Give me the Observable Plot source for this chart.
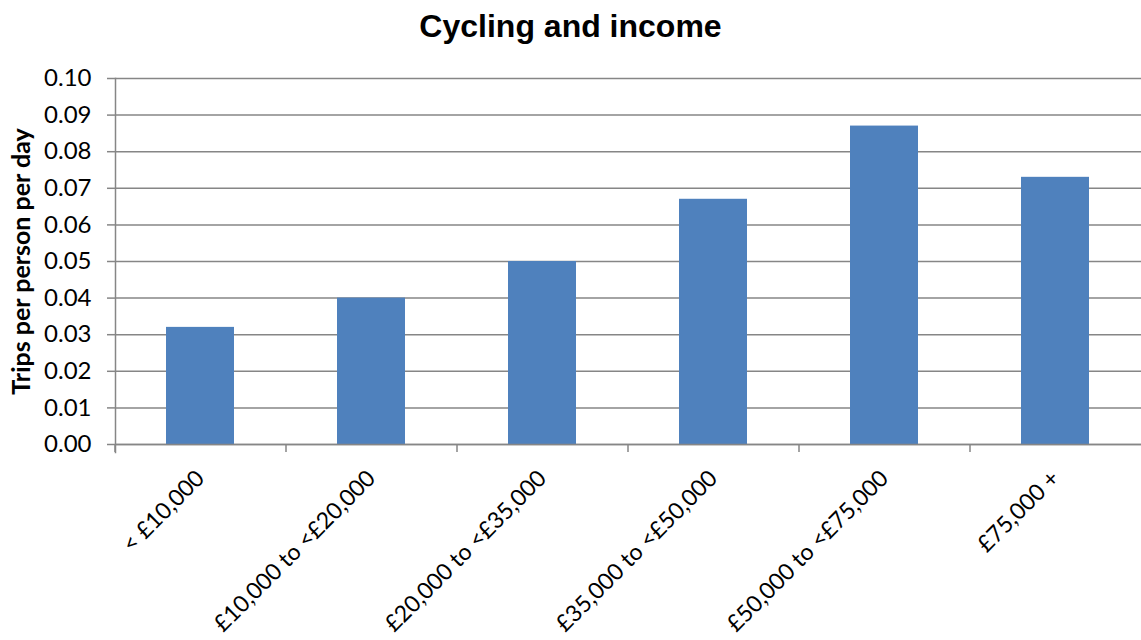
<!DOCTYPE html>
<html>
<head>
<meta charset="utf-8">
<script src="https://cdn.jsdelivr.net/npm/d3@7"></script>
<script src="https://cdn.jsdelivr.net/npm/@observablehq/plot@0.6"></script>
<style>
  html, body { margin: 0; padding: 0; background: white; overflow: hidden; }
  #title { height: 56px; line-height: 52px; text-align: center; font-family: "Liberation Sans", Arial, sans-serif; font-weight: bold; font-size: 32px; color: #000; width: 1141px; }
</style>
</head>
<body>
<div id="title">Cycling and income</div>
<div id="chart"></div>
<script>
const categories = ["< £10,000", "£10,000 to <£20,000", "£20,000 to <£35,000", "£35,000 to <£50,000", "£50,000 to <£75,000", "£75,000 +"];
const values = [0.032, 0.040, 0.050, 0.067, 0.087, 0.073];
const yTicks = [0, 0.01, 0.02, 0.03, 0.04, 0.05, 0.06, 0.07, 0.08, 0.09, 0.10];
const yLabel = "Trips per person per day";

const data = categories.map((c, i) => ({category: c, value: values[i]}));

const W = 1141, H = 584, ML = 115, MR = 0, MT = 22, MB = 196;
const step = (W - ML - MR) / categories.length;
const grey = "#868686";

const chart = Plot.plot({
  width: W,
  height: H,
  marginLeft: ML,
  marginRight: MR,
  marginTop: MT,
  marginBottom: MB,
  style: {fontFamily: "Lato, sans-serif", fontSize: "22px", color: "#000", background: "white", overflow: "visible"},
  x: {domain: categories, paddingInner: 0.6, paddingOuter: 0.3, label: null},
  y: {domain: [0, 0.10], label: null},
  marks: [
    Plot.gridY(yTicks, {stroke: grey, strokeOpacity: 1, strokeWidth: 1.5}),
    Plot.barY(data, {x: "category", y: "value", fill: "#4F81BD"}),
    Plot.ruleY([0], {stroke: grey, strokeWidth: 1.5}),
    Plot.frame({anchor: "left", stroke: grey, strokeWidth: 1.5, insetBottom: -8}),
    Plot.ruleX(categories, {x: d => d, y1: 0, y2: 0, insetBottom: -8, dx: -step / 2, stroke: grey, strokeWidth: 1.5}),
    Plot.axisY(yTicks, {tickFormat: d3.format(".2f"), tickSize: 8, tickPadding: 16, stroke: grey, strokeWidth: 1.5, fontSize: 24, label: null}),
    Plot.axisX({tickSize: 0, tickRotate: -45, tickPadding: 30, fontSize: 23, label: null}),
    Plot.text([yLabel], {text: d => d, frameAnchor: "left", textAnchor: "middle", rotate: -90, dx: -94, fontWeight: "bold", fontSize: 25, fill: "#000"})
  ]
});
document.getElementById("chart").appendChild(chart);
</script>
</body>
</html>
